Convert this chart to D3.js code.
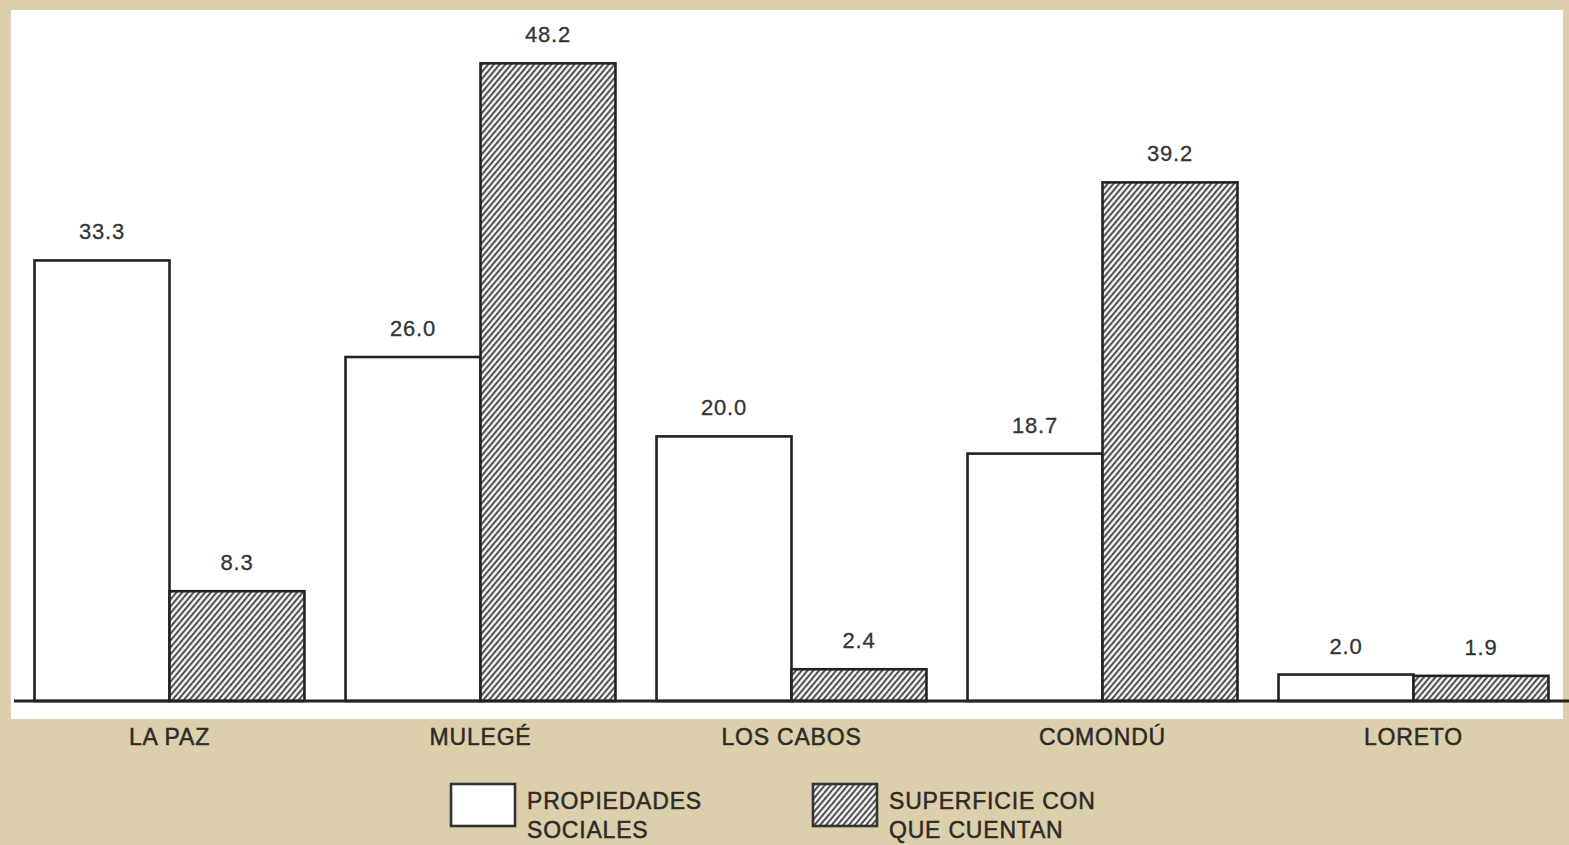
<!DOCTYPE html>
<html><head><meta charset="utf-8">
<script src="https://cdn.jsdelivr.net/npm/d3@7"></script>
<style>html,body{margin:0;padding:0;background:#dcd0ac;}svg{display:block;}</style>
</head><body>
<svg id="chart" width="1569" height="845"></svg>
<script>
const categories = ["LA PAZ", "MULEGÉ", "LOS CABOS", "COMONDÚ", "LORETO"];
const seriesNames = ["PROPIEDADES SOCIALES", "SUPERFICIE CON QUE CUENTAN"];
const propiedades = [33.3, 26.0, 20.0, 18.7, 2.0];
const superficie = [8.3, 48.2, 2.4, 39.2, 1.9];
const legendLines = [["PROPIEDADES", "SOCIALES"], ["SUPERFICIE CON", "QUE CUENTAN"]];

const svg = d3.select("#chart");
const font = "'Liberation Sans', Arial, Helvetica, sans-serif";
const textColor = "#2e2a26";

const defs = svg.append("defs");
const pat = defs.append("pattern").attr("id", "hatch").attr("patternUnits", "userSpaceOnUse")
  .attr("width", 4.4).attr("height", 10).attr("patternTransform", "rotate(40)");
pat.append("rect").attr("width", 4.4).attr("height", 10).attr("fill", "#f6f6f4");
pat.append("line").attr("x1", 1.1).attr("y1", 0).attr("x2", 1.1).attr("y2", 10)
  .attr("stroke", "#3a3a3a").attr("stroke-width", 1.8);

// white panel
svg.append("rect").attr("x", 11).attr("y", 10).attr("width", 1552).attr("height", 709).attr("fill", "#ffffff");

const baseY = 701;
const x0 = d3.scaleBand().domain(categories).range([14, 1569]).paddingInner(0.132).paddingOuter(0.066);
const x1 = d3.scaleBand().domain(seriesNames).range([0, x0.bandwidth()]);
const y = d3.scaleLinear().domain([0, 50]).range([baseY, baseY - 50 * 13.23]);

const data = categories.map((c, i) => ({cat: c, vals: [
  {s: seriesNames[0], v: propiedades[i]}, {s: seriesNames[1], v: superficie[i]}]}));

const g = svg.selectAll("g.grp").data(data).join("g").attr("class", "grp")
  .attr("transform", d => `translate(${x0(d.cat)},0)`);

g.selectAll("rect").data(d => d.vals).join("rect")
  .attr("x", d => x1(d.s)).attr("y", d => y(d.v))
  .attr("width", x1.bandwidth()).attr("height", d => y(0) - y(d.v))
  .attr("fill", d => d.s === seriesNames[0] ? "#ffffff" : "url(#hatch)")
  .attr("stroke", "#222").attr("stroke-width", 2.6);

g.selectAll("text.val").data(d => d.vals).join("text").attr("class", "val")
  .attr("x", d => x1(d.s) + x1.bandwidth() / 2).attr("y", d => y(d.v) - 21)
  .attr("text-anchor", "middle").attr("font-family", font).attr("font-size", 22)
  .attr("letter-spacing", 0.8).attr("stroke", "#333").attr("stroke-width", 0.3)
  .attr("fill", "#333").text(d => d.v.toFixed(1));

// baseline
svg.append("line").attr("x1", 14).attr("x2", 1569).attr("y1", baseY).attr("y2", baseY)
  .attr("stroke", "#222").attr("stroke-width", 3);

// category labels
svg.selectAll("text.cat").data(categories).join("text").attr("class", "cat")
  .attr("x", d => x0(d) + x0.bandwidth() / 2).attr("y", 745)
  .attr("text-anchor", "middle").attr("font-family", font).attr("font-size", 23)
  .attr("letter-spacing", 0.8).attr("stroke", textColor).attr("stroke-width", 0.5)
  .attr("fill", textColor).text(d => d);

// legend
const legX = [451, 813];
const lg = svg.selectAll("g.leg").data(seriesNames).join("g").attr("class", "leg")
  .attr("transform", (d, i) => `translate(${legX[i]},784)`);
lg.append("rect").attr("width", 64).attr("height", 42)
  .attr("fill", (d, i) => i === 0 ? "#ffffff" : "url(#hatch)")
  .attr("stroke", "#333").attr("stroke-width", 2.6);
lg.each(function(d, i) {
  const t = d3.select(this).append("text").attr("font-family", font).attr("font-size", 23)
    .attr("letter-spacing", 0.8).attr("stroke", textColor).attr("stroke-width", 0.5).attr("fill", textColor);
  legendLines[i].forEach((ln, j) => t.append("tspan").attr("x", 76).attr("y", 25 + j * 29).text(ln));
});
</script>
</body></html>
